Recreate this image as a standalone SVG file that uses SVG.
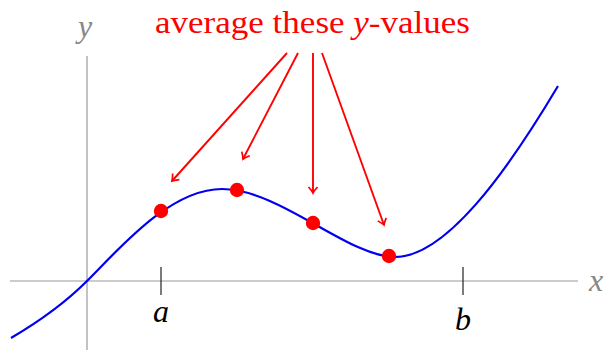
<svg xmlns="http://www.w3.org/2000/svg" width="604" height="350" viewBox="0 0 604 350">
<style>
.axis{stroke:#999;stroke-width:1.2;fill:none}
.tick{stroke:#222;stroke-width:1.2}
.curve{stroke:#0000ee;stroke-width:2.2;fill:none}
.arr{stroke:#ff0000;stroke-width:1.9;fill:none;marker-end:url(#to)}
.dot{fill:#ff0000}
.lbl{font-family:"Liberation Serif",serif;font-style:italic;font-size:32px}
.title{font-family:"Liberation Serif",serif;font-size:32px;fill:#ff0000}
</style>
<defs>
<marker id="to" markerUnits="userSpaceOnUse" viewBox="-8 -6 10 12" markerWidth="10" markerHeight="12" refX="0" refY="0" orient="auto">
<path d="M-6,-4.5 Q-2,-1 0,0 Q-2,1 -6,4.5" stroke="#ff0000" stroke-width="1.7" fill="none"/>
</marker>
</defs>
<g id="axes">
<line class="axis" x1="10" y1="281" x2="578" y2="281"/>
<line class="axis" x1="87" y1="56" x2="87" y2="350"/>
<text class="lbl" x="596" y="291" text-anchor="middle" fill="#888">x</text>
<text class="lbl" x="85" y="37" text-anchor="middle" fill="#888">y</text>
</g>
<g id="tick-a">
<line class="tick" x1="161" y1="267" x2="161" y2="295"/>
<text class="lbl" x="161" y="322" text-anchor="middle" fill="#000">a</text>
</g>
<g id="tick-b">
<line class="tick" x1="463" y1="267" x2="463" y2="295"/>
<text class="lbl" x="463" y="330" text-anchor="middle" fill="#000">b</text>
</g>
<g id="curve">
<path class="curve" d="M11,338 C40,321 66,302 87,281 C120,248 170,189 222,189 C280,189 348,257 395,257 C445,257 505,175 558,86"/>
</g>
<g id="title">
<text class="title" x="155" y="33" textLength="315" lengthAdjust="spacingAndGlyphs">average these <tspan font-style="italic">y</tspan>-values</text>
</g>
<g id="connectors">
<line class="arr" x1="287" y1="53" x2="172" y2="181"/>
<line class="arr" x1="298" y1="53" x2="243" y2="159"/>
<line class="arr" x1="313" y1="53" x2="313" y2="193"/>
<line class="arr" x1="322" y1="53" x2="384" y2="225"/>
</g>
<g id="points">
<circle id="p1" class="dot" cx="161" cy="211" r="7.2"/>
<circle id="p2" class="dot" cx="237" cy="190" r="7.2"/>
<circle id="p3" class="dot" cx="313" cy="223" r="7.2"/>
<circle id="p4" class="dot" cx="389" cy="256" r="7.2"/>
</g>
</svg>
